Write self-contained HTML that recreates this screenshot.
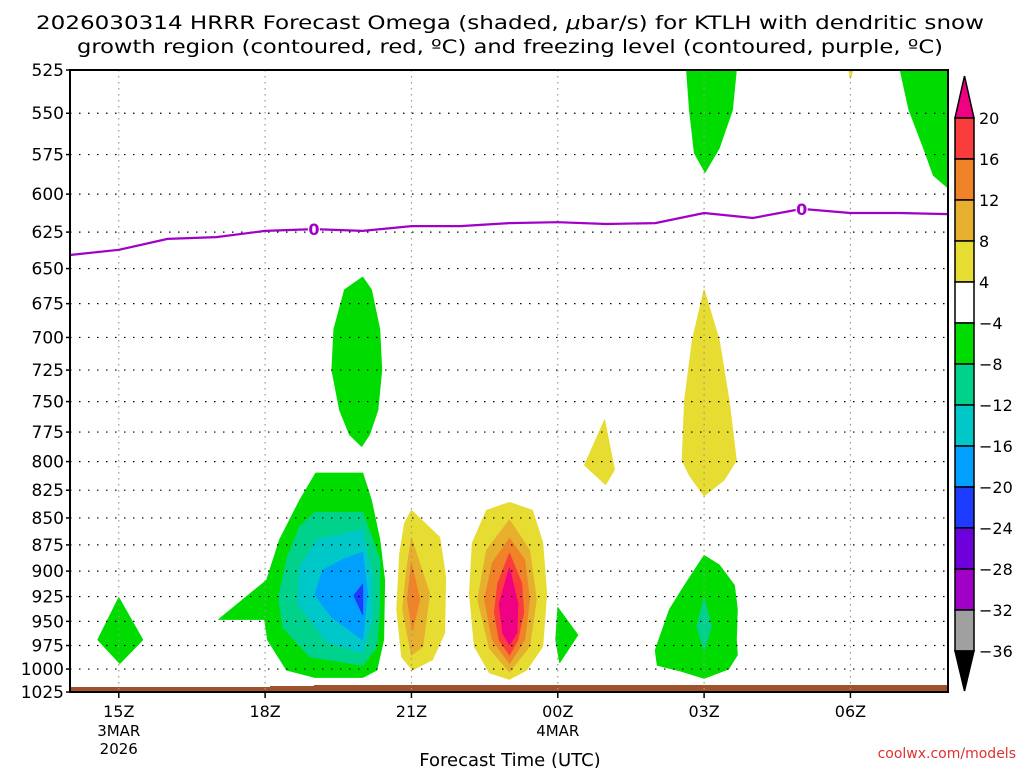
<!DOCTYPE html>
<html><head><meta charset="utf-8"><style>
html,body{margin:0;padding:0;background:#fff;}
svg{display:block;font-family:"DejaVu Sans","Liberation Sans",sans-serif;}
</style></head><body>
<svg id="chart" width="1024" height="768" viewBox="0 0 1024 768" xmlns="http://www.w3.org/2000/svg">
<text x="510" y="29" text-anchor="middle" font-size="19" textLength="948" lengthAdjust="spacingAndGlyphs">2026030314 HRRR Forecast Omega (shaded, <tspan font-style="italic">μ</tspan>bar/s) for KTLH with dendritic snow</text>
<text x="510" y="53" text-anchor="middle" font-size="19" textLength="866" lengthAdjust="spacingAndGlyphs">growth region (contoured, red, ºC) and freezing level (contoured, purple, ºC)</text>
<g id="shades"></g>
<g id="grid"></g>
<g id="lines"></g>
<g id="axes"></g>
<g id="cbar"></g>
<text x="510" y="766" text-anchor="middle" font-size="18">Forecast Time (UTC)</text>
<text x="1016" y="758" text-anchor="end" font-size="14" fill="#e03030">coolwx.com/models</text>
</svg>
<script>
const pressureTicks=[525,550,575,600,625,650,675,700,725,750,775,800,825,850,875,900,925,950,975,1000,1025];
const timeTickHours=[15,18,21,24,27,30];
const timeTickLabels=["15Z","18Z","21Z","00Z","03Z","06Z"];
const dateLabels=[{h:15,t:["3MAR","2026"]},{h:24,t:["4MAR"]}];
const cbarLevels=["20","16","12","8","4","−4","−8","−12","−16","−20","−24","−28","−32","−36"];
const cbarColors=["#fa3c3c","#f08228","#e6af2d","#e6dc32","#ffffff","#00dc00","#00d28c","#00c8c8","#00a0ff","#1e3cff","#6e00dc","#a000c8","#a0a0a0"];
const freezeHours=[14,15,16,17,18,19,20,21,22,23,24,25,26,27,28,29,30,31,32];
const freezeP=[640.6,637,629.6,628.4,624.2,623,624.2,621,621,619,618.4,619.6,619,612.3,615.6,609.6,612.3,612.3,613];
const freezeLabelHours=[19,29];
// omega blobs: [color, [[hour,hPa],...]]
const blobs=[
["#00dc00",[[26.64,525],[27.66,525],[27.58,548],[27.31,571],[27.02,586],[26.8,574],[26.7,548]]],
["#00dc00",[[31.02,525],[32,525],[32,596],[31.7,588],[31.5,571],[31.2,548]]],
["#e6dc32",[[29.97,525],[30.05,525],[30.0,530]]],
["#00dc00",[[20.0,656],[20.18,665],[20.35,694],[20.39,725],[20.31,757],[20.14,777],[19.98,787],[19.73,777],[19.53,757],[19.37,725],[19.41,694],[19.63,665]]],
["#e6dc32",[[24.96,765],[25.16,807],[24.98,820],[24.55,803]]],
["#e6dc32",[[27.0,665],[27.31,702],[27.51,749],[27.66,799],[27.41,816],[27.0,830],[26.7,812],[26.55,799],[26.6,749],[26.76,702]]],
["#00dc00",[[27.0,885],[27.31,894],[27.62,914],[27.68,938],[27.66,969],[27.68,985],[27.5,1000],[27.0,1010],[26.51,1002],[26.04,996],[26.0,980],[26.29,938],[26.6,914]]],
["#00d28c",[[27.0,927],[27.15,955],[27.0,980],[26.85,955]]],
["#00dc00",[[24.0,936],[24.41,964],[24.04,993],[23.96,969]]],
["#00dc00",[[15.0,926],[15.49,969],[15.02,994],[14.57,969]]],
["#00dc00",[[19.04,810],[20.0,810],[20.18,834],[20.35,870],[20.45,909],[20.43,969],[20.29,1001],[20.0,1009],[19.02,1009],[18.44,1001],[18.05,969],[17.99,948],[17.05,948],[18.03,909],[18.3,870],[18.71,834]]],
["#00d28c",[[19.02,845],[20.0,845],[20.35,889],[20.35,938],[20.29,976],[20.0,996],[18.92,987],[18.36,956],[18.28,925],[18.44,889],[18.71,858]]],
["#00c8c8",[[20.0,861],[20.2,906],[20.2,948],[20.0,983],[19.26,971],[18.67,932],[18.71,896],[19.06,870]]],
["#00a0ff",[[20.0,882],[20.1,922],[20.0,969],[19.37,946],[19.02,923],[19.18,899],[19.59,889]]],
["#1e3cff",[[20.0,913],[20.0,943],[19.82,924]]],
["#e6dc32",[[21.0,843],[21.58,868],[21.7,906],[21.68,962],[21.43,990],[21.02,1001],[20.8,987],[20.7,938],[20.76,883],[20.86,855]]],
["#e6af2d",[[21.0,869],[21.37,922],[21.23,976],[21.0,985],[20.82,938],[20.9,899]]],
["#f08228",[[21.0,892],[21.17,928],[21.02,959],[20.92,928]]],
["#e6dc32",[[23.01,836],[23.48,843],[23.69,873],[23.77,922],[23.69,976],[23.36,1001],[23.01,1011],[22.6,1004],[22.29,976],[22.19,922],[22.25,873],[22.54,843]]],
["#e6af2d",[[23.01,852],[23.42,880],[23.56,928],[23.42,976],[23.01,1003],[22.6,978],[22.36,928],[22.54,880]]],
["#f08228",[[23.01,869],[23.32,889],[23.42,928],[23.32,969],[23.01,994],[22.66,969],[22.5,928],[22.66,892]]],
["#fa3c3c",[[23.01,883],[23.26,912],[23.3,941],[23.18,969],[23.01,985],[22.8,969],[22.7,941],[22.77,912]]],
["#f00082",[[23.01,897],[23.18,932],[23.16,962],[23.01,974],[22.87,962],[22.8,932]]]
];
const X0=70,X1=948,Y0=70,Y1=692,H0=14,H1=32,P0=525,P1=1025;
const xs=h=>X0+(h-H0)/(H1-H0)*(X1-X0);
const ys=p=>Y0+Math.log(p/P0)/Math.log(P1/P0)*(Y1-Y0);
const NS="http://www.w3.org/2000/svg";
function mk(tag,attrs,parent){const e=document.createElementNS(NS,tag);for(const k in attrs)e.setAttribute(k,attrs[k]);parent.appendChild(e);return e;}
const shades=document.getElementById('shades');
blobs.forEach((b,i)=>{
 const pts=b[1].map(q=>xs(q[0]).toFixed(1)+','+ys(q[1]).toFixed(1)).join(' ');
 const el=mk('polygon',{points:pts,fill:b[0],stroke:b[0],'stroke-width':1,'stroke-linejoin':'round'},shades);
 
 
});
const g1=mk('polygon',{points:`${X0},687 ${xs(18.1)},687 ${xs(18.1)},686 ${xs(19)},686 ${xs(19)},685 ${X1},685 ${X1},${Y1} ${X0},${Y1}`,fill:'#a0522d'},shades);


const grid=document.getElementById('grid');
pressureTicks.forEach(p=>{
 const y=ys(p);
 const l=mk('line',{x1:X0,x2:X1,y1:y,y2:y,stroke:'#000','stroke-width':1.2,'stroke-dasharray':'1.5,7.5'},grid);
 
 
});
timeTickHours.forEach(h=>{
 const x=xs(h);
 const l=mk('line',{x1:x,x2:x,y1:Y0,y2:Y1,stroke:'#999','stroke-width':1.2,'stroke-dasharray':'1.5,4.5'},grid);
 
 
});
const lines=document.getElementById('lines');
const fpts=freezeHours.map((h,i)=>xs(h).toFixed(1)+','+ys(freezeP[i]).toFixed(1)).join(' ');
const fl=mk('polyline',{points:fpts,fill:'none',stroke:'#a000c8','stroke-width':2.2},lines);


freezeLabelHours.forEach(h=>{
 const i=freezeHours.indexOf(h);
 const x=xs(h),y=ys(freezeP[i]);
 mk('rect',{x:x-6,y:y-8,width:12,height:16,fill:'#fff'},lines);
 const t=mk('text',{x:x,y:y+6,'text-anchor':'middle','font-size':16,'font-weight':'bold',fill:'#a000c8'},lines);
 t.textContent='0';
 
 
});
const axes=document.getElementById('axes');
const fr=mk('rect',{x:X0,y:Y0,width:X1-X0,height:Y1-Y0,fill:'none',stroke:'#000','stroke-width':2},axes);


pressureTicks.forEach(p=>{
 const y=ys(p);
 mk('line',{x1:X0-4,x2:X0,y1:y,y2:y,stroke:'#000','stroke-width':1.5},axes);
 const t=mk('text',{x:X0-6,y:y+6,'text-anchor':'end','font-size':17},axes);
 t.textContent=p;
 
 
});
timeTickHours.forEach((h,i)=>{
 const x=xs(h);
 mk('line',{x1:x,x2:x,y1:Y1,y2:Y1+6,stroke:'#000','stroke-width':1.5},axes);
 const t=mk('text',{x:x,y:Y1+25,'text-anchor':'middle','font-size':16},axes);
 t.textContent=timeTickLabels[i];
 
 
});
dateLabels.forEach(d=>{
 d.t.forEach((s,j)=>{
  const t=mk('text',{x:xs(d.h),y:Y1+44+j*18,'text-anchor':'middle','font-size':15},axes);
  t.textContent=s;
  
  
 });
});
const cb=document.getElementById('cbar');
const CX0=955,CX1=974,CY0=118,CB=41;
const tt=mk('polygon',{points:`${CX0},${CY0} ${CX1},${CY0} ${(CX0+CX1)/2},76`,fill:'#f00082',stroke:'#000','stroke-width':1.5},cb);


cbarColors.forEach((c,i)=>{
 const r=mk('rect',{x:CX0,y:CY0+i*CB,width:CX1-CX0,height:CB,fill:c,stroke:'#000','stroke-width':1.5},cb);
 
 
});
const yb=CY0+cbarColors.length*CB;
const bt=mk('polygon',{points:`${CX0},${yb} ${CX1},${yb} ${(CX0+CX1)/2},691`,fill:'#000',stroke:'#000','stroke-width':1.5},cb);


cbarLevels.forEach((s,i)=>{
 const t=mk('text',{x:979,y:CY0+i*CB+6,'font-size':16},cb);
 t.textContent=s;
 
 
});
</script>
</body></html>
